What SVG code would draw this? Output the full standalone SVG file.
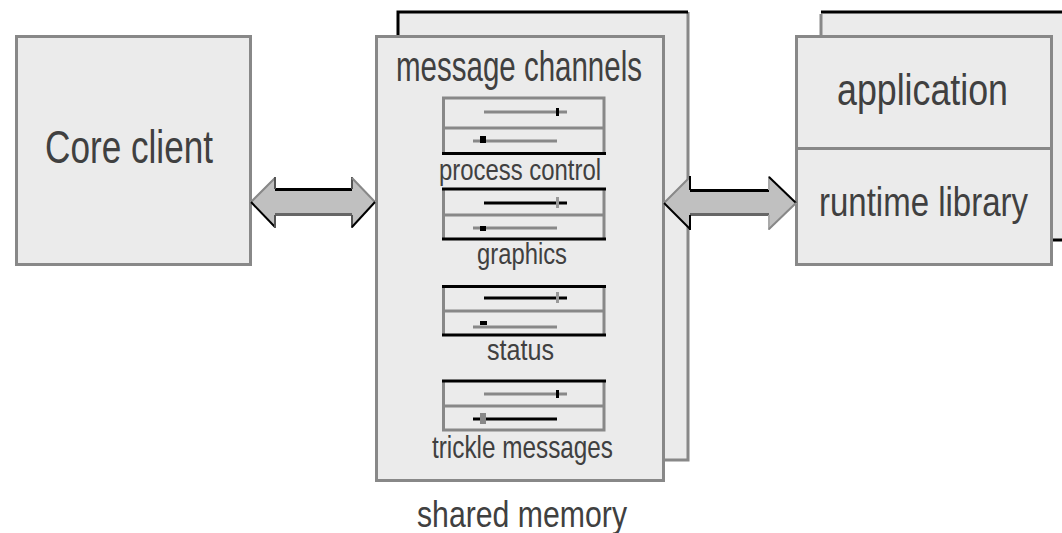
<svg xmlns="http://www.w3.org/2000/svg" width="1062" height="533" viewBox="0 0 1062 533">
<style>
.box{fill:#ebebeb;stroke:#888;stroke-width:3}
.t{font-family:"Liberation Sans",Arial,sans-serif;fill:#404040}
.g{stroke:#888;stroke-width:3;fill:none}
.k{stroke:#000;stroke-width:3;fill:none}
.arrow{fill:#c0c0c0;stroke:none}
</style>
<rect width="1062" height="533" fill="#fff"/>

<g id="core-client">
<rect class="box" x="16.5" y="36.5" width="234" height="228"/>
<text class="t" font-size="34" textLength="168" lengthAdjust="spacingAndGlyphs" transform="translate(45,163) scale(1,1.35)">Core client</text>
</g>

<g id="shared-memory">
<rect x="398" y="12" width="290" height="448" fill="#ebebeb"/>
<path class="g" d="M688,12 V460 H664"/>
<path class="k" d="M398,35 V12 H688"/>
<rect class="box" x="376.5" y="36.5" width="287" height="444"/>
<text class="t" font-size="31" textLength="246" lengthAdjust="spacingAndGlyphs" transform="translate(396,81) scale(1,1.35)">message channels</text>
<text class="t" font-size="28" textLength="210" lengthAdjust="spacingAndGlyphs" transform="translate(417,527) scale(1,1.3)">shared memory</text>
</g>

<g id="channel-process-control">
<rect x="443.5" y="98" width="160.5" height="55.5" fill="#ebebeb"/>
<path class="g" d="M443.5,153.5 V98 H604 V153.5 M443.5,128 H604"/>
<path class="k" d="M442,153.5 H606"/>
<path class="g" d="M484,112 H567 M473,141 H557"/>
<rect x="556" y="108" width="3" height="8" fill="#000"/>
<rect x="480" y="136" width="6" height="7" fill="#000"/>
<text class="t" font-size="23" textLength="162" lengthAdjust="spacingAndGlyphs" transform="translate(439,180) scale(1,1.3)">process control</text>
</g>

<g id="channel-graphics">
<rect x="443.5" y="189" width="160.5" height="50" fill="#ebebeb"/>
<path class="g" d="M443.5,189 V239 M604,189 V239 M443.5,215 H604"/>
<path class="k" d="M442,189 H606 M442,239 H606"/>
<path class="k" d="M484,203 H567"/>
<path class="g" d="M473,228 H557"/>
<rect x="556" y="197" width="3" height="11" fill="#999"/>
<rect x="480" y="226" width="6" height="5" fill="#000"/>
<text class="t" font-size="22" textLength="90" lengthAdjust="spacingAndGlyphs" transform="translate(477,264) scale(1,1.3)">graphics</text>
</g>

<g id="channel-status">
<rect x="443.5" y="286.5" width="160.5" height="48.5" fill="#ebebeb"/>
<path class="g" d="M443.5,286.5 V335 M604,286.5 V335 M443.5,311 H604"/>
<path class="k" d="M442,286.5 H606 M442,335 H606"/>
<path class="k" d="M484,298 H567"/>
<path class="g" d="M473,327 H557"/>
<rect x="556" y="292" width="3" height="11" fill="#999"/>
<rect x="480" y="321" width="7" height="4" fill="#000"/>
<text class="t" font-size="23" textLength="67" lengthAdjust="spacingAndGlyphs" transform="translate(487,360) scale(1,1.3)">status</text>
</g>

<g id="channel-trickle-messages">
<rect x="443.5" y="381" width="160.5" height="49" fill="#ebebeb"/>
<path class="g" d="M443.5,381 V430 H604 V381 M443.5,406 H604"/>
<path class="k" d="M442,381 H606"/>
<path class="g" d="M484,394 H567"/>
<path class="k" d="M473,419 H557"/>
<rect x="556" y="390" width="3" height="8" fill="#000"/>
<rect x="480" y="413" width="6" height="11" fill="#888"/>
<text class="t" font-size="24" textLength="181" lengthAdjust="spacingAndGlyphs" transform="translate(432,458) scale(1,1.3)">trickle messages</text>
</g>

<g id="application">
<rect x="821" y="12" width="250" height="228" fill="#ebebeb"/>
<path class="g" d="M821,35 V14"/>
<path class="k" d="M821,12 H1062 M1053,240 H1062"/>
<rect class="box" x="796.5" y="36.5" width="255" height="228"/>
<path class="g" d="M796.5,148.5 H1051.5"/>
<text class="t" font-size="33" textLength="171" lengthAdjust="spacingAndGlyphs" transform="translate(837,105) scale(1,1.35)">application</text>
<text class="t" font-size="30" textLength="209" lengthAdjust="spacingAndGlyphs" transform="translate(819,216) scale(1,1.35)">runtime library</text>
</g>

<g id="connectors">
<g id="arrow-left">
<polygon class="arrow" points="250,202 275,177 275,189 352,189 352,177 376,202 352,228 352,215 275,215 275,228"/>
<path d="M275,189.5 H352" stroke="#000" stroke-width="3"/>
<path d="M275,214.5 H352" stroke="#666" stroke-width="3"/>
<path d="M251,202 L275,178" stroke="#888" stroke-width="2" fill="none"/>
<path d="M251,202 L275,227" stroke="#000" stroke-width="2" fill="none"/>
<path d="M275,177 V189 M275,215 V228" stroke="#555" stroke-width="2"/>
<path d="M352,177 V189 M352,215 V228" stroke="#555" stroke-width="2"/>
<path d="M352,178 L375,202" stroke="#888" stroke-width="2" fill="none"/>
<path d="M375,202 L352,227" stroke="#000" stroke-width="2" fill="none"/>
</g>
<g id="arrow-right">
<polygon class="arrow" points="663,203 690,176 690,190 769,190 769,176 797,203 769,230 769,215 690,215 690,230"/>
<path d="M690,190.5 H769" stroke="#000" stroke-width="3"/>
<path d="M690,214.5 H769" stroke="#666" stroke-width="3"/>
<path d="M664,203 L690,177" stroke="#888" stroke-width="2" fill="none"/>
<path d="M664,203 L690,229" stroke="#000" stroke-width="2" fill="none"/>
<path d="M690,176 V190 M690,215 V230" stroke="#000" stroke-width="2"/>
<path d="M769,176 V190 M769,215 V230" stroke="#aaa" stroke-width="2"/>
<path d="M769,177 L796,203" stroke="#000" stroke-width="2" fill="none"/>
<path d="M796,203 L769,229" stroke="#888" stroke-width="2" fill="none"/>
</g>
</g>
</svg>
